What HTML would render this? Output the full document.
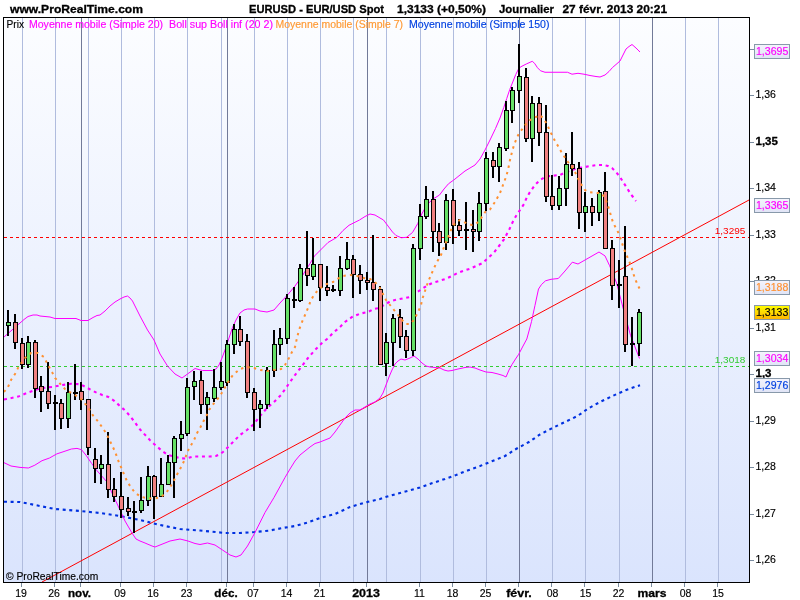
<!DOCTYPE html>
<html lang="fr"><head><meta charset="utf-8"><title>EURUSD - EUR/USD Spot</title>
<style>html,body{margin:0;padding:0;background:#fff;overflow:hidden}svg{display:block}text{font-family:"Liberation Sans",sans-serif}.b{font-weight:bold}</style></head><body>
<svg width="800" height="600" viewBox="0 0 800 600">
<defs><linearGradient id="bg" x1="0" y1="0" x2="0" y2="1"><stop offset="0" stop-color="#fcfdff"/><stop offset="1" stop-color="#dae4fd"/></linearGradient>
<linearGradient id="yl" x1="0" y1="0" x2="0" y2="1"><stop offset="0" stop-color="#ffff00"/><stop offset="1" stop-color="#ffb400"/></linearGradient>
<linearGradient id="lb" x1="0" y1="0" x2="0" y2="1"><stop offset="0" stop-color="#f4f4fc"/><stop offset="1" stop-color="#e0e4f6"/></linearGradient></defs>
<rect x="0" y="0" width="800" height="600" fill="#fff"/>
<rect x="3" y="17" width="747" height="566" fill="url(#bg)"/>
<g shape-rendering="crispEdges">
<rect x="22" y="18" width="1" height="564" fill="#b0bcde"/>
<rect x="55" y="18" width="1" height="564" fill="#b0bcde"/>
<rect x="88" y="18" width="1" height="564" fill="#b0bcde"/>
<rect x="121" y="18" width="1" height="564" fill="#b0bcde"/>
<rect x="154" y="18" width="1" height="564" fill="#b0bcde"/>
<rect x="187" y="18" width="1" height="564" fill="#b0bcde"/>
<rect x="221" y="18" width="1" height="564" fill="#b0bcde"/>
<rect x="254" y="18" width="1" height="564" fill="#b0bcde"/>
<rect x="287" y="18" width="1" height="564" fill="#b0bcde"/>
<rect x="320" y="18" width="1" height="564" fill="#b0bcde"/>
<rect x="353" y="18" width="1" height="564" fill="#b0bcde"/>
<rect x="386" y="18" width="1" height="564" fill="#b0bcde"/>
<rect x="420" y="18" width="1" height="564" fill="#b0bcde"/>
<rect x="453" y="18" width="1" height="564" fill="#b0bcde"/>
<rect x="486" y="18" width="1" height="564" fill="#b0bcde"/>
<rect x="552" y="18" width="1" height="564" fill="#b0bcde"/>
<rect x="585" y="18" width="1" height="564" fill="#b0bcde"/>
<rect x="619" y="18" width="1" height="564" fill="#b0bcde"/>
<rect x="685" y="18" width="1" height="564" fill="#b0bcde"/>
<rect x="718" y="18" width="1" height="564" fill="#b0bcde"/>
<rect x="81" y="18" width="1" height="564" fill="#727a98"/>
<rect x="227" y="18" width="1" height="564" fill="#727a98"/>
<rect x="367" y="18" width="1" height="564" fill="#727a98"/>
<rect x="519" y="18" width="1" height="564" fill="#727a98"/>
<rect x="652" y="18" width="1" height="564" fill="#727a98"/>
</g>
<line x1="4" y1="237.5" x2="749" y2="237.5" stroke="#ff0000" stroke-width="1" stroke-dasharray="3 3" shape-rendering="crispEdges"/>
<line x1="4" y1="366.5" x2="749" y2="366.5" stroke="#33cc33" stroke-width="1" stroke-dasharray="3 3" shape-rendering="crispEdges"/>
<line x1="42" y1="582" x2="749" y2="200" stroke="#ff0000" stroke-width="1"/>
<polyline points="4,501.75 20,502 40,506 55,509 80,511 100,513 120,516 140,520 160,525 180,529 200,530.5 205,531 225,533 240,533 255,532 270,530.5 282.5,528 295,526 307.5,522.5 320,518 335,514 350,507 365,502.5 380,499 384,497.5 396,494 409,490.5 420,487.5 432.5,483 445,479 456,475 467.5,470.5 480,466 492.5,461 505,456 516,449 529,442 540,434.5 552.5,428 565,422 577.5,416 587.5,409 600,402 612.5,396 625,390.5 631,388.25 637,386.25 640,385.3" fill="none" stroke="#0030e0" stroke-width="2.1" stroke-dasharray="3 3.6"/>
<polyline points="4,337 8,333.5 12,330 16,326.5 20,323 24,319.5 28,316.5 33,315 37,315 40,316 50,317 55,318.5 76,318.5 81,320.5 88,320.5 93,317.5 97,315.5 100,315 105,311 110,306 115,302 120,299 124,297 127.5,296 130,298 132.5,301 136,308 140,316 147.5,330 154,340 160,354 167.5,366 175,374 182,378 187.5,374 195,368.5 202.5,370.5 207,370.5 212.5,370.5 216,369 219,365 222,358 225,350 228,341 232.5,327.5 236,320 240,313 244,310 247.5,309 255,309 260,311 267,312 274,310 280,303 287.5,295 295,286 302.5,275.5 310,263.5 314.5,256 320.5,250 328,242.5 334,239 337,237.25 343,230.5 349,225.25 355,222.25 359.5,220 365,216.5 370,214 375,215 380,218 383.5,220 388,226 392.5,232 396,235.5 401.25,237.75 406.5,237.3 412.5,232.5 417.75,223.5 422.25,213 427.5,204 433.5,198.75 439.5,195 444,189 448.5,183.75 453.75,180 460,175 465,171 470,168 475,165 480,159 485,150 490,140 495.5,128.5 500,118 503.75,107.5 506.75,98.5 509.75,89.5 512.75,82 515.75,74.5 518.75,68.5 521,66.7 526.25,64 532.25,61.3 534.5,63.25 537.5,67.75 540.5,70.75 545,72.25 567.5,72.25 572,74.2 578,73.3 584,74.2 590,75.5 596,76.5 600,77 605,75 609,71.5 612.5,67.5 616,64.5 620,61 623,55 626,49 629,46.5 632,44.5 636,48 640,52" fill="none" stroke="#ff00ff" stroke-width="1" stroke-linejoin="round"/>
<polyline points="3.7,462.5 11,466 20,467.4 28.4,468 34.8,465.2 42,460.7 49.5,458 56.8,453.9 64,451.5 71.4,449 77,448.4 81.5,449.7 86,455.2 91.6,463.4 97,470.7 103.5,478 107,482 112,493 120,510 125,521 132,533 136,539 140,541 145,543 152,546 155,547 160,545 170,541 180,539 188,541 195,543.5 200,544.5 207.5,543 215,545 222.5,550 230,555 236,557 241,555 247.5,546 255,532.5 265,512.5 274,497.5 285,477.5 290,469 295,461 300,455 305,451 310,447 315,443.5 320,442 325,440 330,438 335,432 340,425 345,418 350,413 355,410 360,410 365,407 370,404 375,402 380,398 383,393 386,385 389,377 392,370 395,364 398,361 401,359 405,360 410,358 414,356 418,359 422,363 426,366 430,367 435,367.5 440,368 444,370 448,371 452,370.5 458,369 465,367.5 470,367 475,368 480,370 486,372 492,372.5 498,374 503,375.5 506,377 509,370 512,364.5 515.5,359 518.7,354.3 522.5,347 526.8,339 529,331 531.5,321.6 535,305.3 538.5,289 541.5,284.5 545.5,280.8 551,279.3 558.3,278.5 565,271 572.3,262.2 578,264 585,260 592,256 599,252 605,255.9 609.6,265.7 616.6,283 623.6,310 630.6,335.6 639.5,358.5" fill="none" stroke="#ff00ff" stroke-width="1" stroke-linejoin="round"/>
<polyline points="4,399.5 6.4,399 18.3,396.6 29.3,392 40.3,388.3 53,386.8 62.3,385 71.4,383.7 80.6,384.3 89.7,389.2 96,392.4 102.3,395 108.4,397 114.5,401 119.8,405.9 125,410.4 130,416 134.7,422 139,428.3 144.6,434.4 150.4,440.6 156.5,446.2 162.7,451.4 168,455 175,456.7 181,458.4 186.5,458.5 193.3,456.5 203.8,456.5 210,456.5 216,456 220,454 223,452 228.4,446.7 235,440 240,435 247,430 254,424 260,416 267,408 274,402 281,395 288,385 295,375 302,366 308,358 315,350 318,347 322,343 327,339 333,333 340,327 345,322 352,317 358,314.5 360,313.6 368,312 374,309 379,308 385,304.4 391,301 397,299.6 403,298.4 410,297 415,293.6 421,289.6 427,285.6 433,282.7 439,281 446,278.75 452.5,275.75 457.5,273 463,271 470,268.75 476,266 482.5,263 488,258 494,252.5 499,246 504,239.5 509.5,229 512.5,222.5 516,216 520,210 524,204 527,197 530,192 535,185 540,180 545,177 550,176 555,175.5 560,175 566,172 572,170 578,168 585,167 590,166 597,165 603,165 608,166 612,168 616,172 620,177 623,182 627,188 630,193 633,197 636,201" fill="none" stroke="#ff00ff" stroke-width="2.1" stroke-dasharray="3 3.7"/>
<g shape-rendering="crispEdges">
<rect x="7" y="310" width="2" height="26" fill="#000"/>
<rect x="6" y="322" width="5" height="4" fill="#000"/>
<rect x="7" y="323" width="3" height="2" fill="#66e066"/>
<rect x="14" y="314" width="2" height="35" fill="#000"/>
<rect x="13" y="322" width="5" height="21" fill="#000"/>
<rect x="14" y="323" width="3" height="19" fill="#f08080"/>
<rect x="21" y="338" width="2" height="31" fill="#000"/>
<rect x="20" y="343" width="5" height="22" fill="#000"/>
<rect x="21" y="344" width="3" height="20" fill="#f08080"/>
<rect x="27" y="336" width="2" height="32" fill="#000"/>
<rect x="26" y="342" width="5" height="23" fill="#000"/>
<rect x="27" y="343" width="3" height="21" fill="#66e066"/>
<rect x="34" y="340" width="2" height="58" fill="#000"/>
<rect x="33" y="342" width="5" height="47" fill="#000"/>
<rect x="34" y="343" width="3" height="45" fill="#f08080"/>
<rect x="40" y="376" width="2" height="36" fill="#000"/>
<rect x="39" y="386" width="5" height="6" fill="#000"/>
<rect x="40" y="387" width="3" height="4" fill="#f08080"/>
<rect x="47" y="362" width="2" height="47" fill="#000"/>
<rect x="46" y="391" width="5" height="13" fill="#000"/>
<rect x="47" y="392" width="3" height="11" fill="#f08080"/>
<rect x="54" y="395" width="2" height="35" fill="#000"/>
<rect x="53" y="402" width="5" height="2" fill="#000"/>
<rect x="60" y="399" width="2" height="30" fill="#000"/>
<rect x="59" y="403" width="5" height="16" fill="#000"/>
<rect x="60" y="404" width="3" height="14" fill="#f08080"/>
<rect x="67" y="382" width="2" height="46" fill="#000"/>
<rect x="66" y="392" width="5" height="27" fill="#000"/>
<rect x="67" y="393" width="3" height="25" fill="#66e066"/>
<rect x="74" y="364" width="2" height="36" fill="#000"/>
<rect x="73" y="392" width="5" height="2" fill="#000"/>
<rect x="80" y="382" width="2" height="28" fill="#000"/>
<rect x="79" y="391" width="5" height="9" fill="#000"/>
<rect x="80" y="392" width="3" height="7" fill="#f08080"/>
<rect x="87" y="399" width="2" height="56" fill="#000"/>
<rect x="86" y="399" width="5" height="49" fill="#000"/>
<rect x="87" y="400" width="3" height="47" fill="#f08080"/>
<rect x="94" y="448" width="2" height="35" fill="#000"/>
<rect x="93" y="459" width="5" height="10" fill="#000"/>
<rect x="94" y="460" width="3" height="8" fill="#f08080"/>
<rect x="100" y="455" width="2" height="29" fill="#000"/>
<rect x="99" y="464" width="5" height="5" fill="#000"/>
<rect x="100" y="465" width="3" height="3" fill="#66e066"/>
<rect x="107" y="432" width="2" height="66" fill="#000"/>
<rect x="106" y="464" width="5" height="26" fill="#000"/>
<rect x="107" y="465" width="3" height="24" fill="#f08080"/>
<rect x="113" y="478" width="2" height="24" fill="#000"/>
<rect x="112" y="489" width="5" height="8" fill="#000"/>
<rect x="113" y="490" width="3" height="6" fill="#f08080"/>
<rect x="120" y="472" width="2" height="46" fill="#000"/>
<rect x="119" y="496" width="5" height="14" fill="#000"/>
<rect x="120" y="497" width="3" height="12" fill="#f08080"/>
<rect x="127" y="497" width="2" height="19" fill="#000"/>
<rect x="126" y="508" width="5" height="4" fill="#000"/>
<rect x="127" y="509" width="3" height="2" fill="#f08080"/>
<rect x="133" y="501" width="2" height="32" fill="#000"/>
<rect x="132" y="511" width="5" height="2" fill="#000"/>
<rect x="140" y="477" width="2" height="36" fill="#000"/>
<rect x="139" y="500" width="5" height="11" fill="#000"/>
<rect x="140" y="501" width="3" height="9" fill="#66e066"/>
<rect x="147" y="466" width="2" height="40" fill="#000"/>
<rect x="146" y="476" width="5" height="25" fill="#000"/>
<rect x="147" y="477" width="3" height="23" fill="#66e066"/>
<rect x="153" y="475" width="2" height="44" fill="#000"/>
<rect x="152" y="476" width="5" height="21" fill="#000"/>
<rect x="153" y="477" width="3" height="19" fill="#f08080"/>
<rect x="160" y="458" width="2" height="38" fill="#000"/>
<rect x="159" y="484" width="5" height="13" fill="#000"/>
<rect x="160" y="485" width="3" height="11" fill="#66e066"/>
<rect x="167" y="455" width="2" height="30" fill="#000"/>
<rect x="166" y="462" width="5" height="23" fill="#000"/>
<rect x="167" y="463" width="3" height="21" fill="#66e066"/>
<rect x="173" y="436" width="2" height="62" fill="#000"/>
<rect x="172" y="438" width="5" height="25" fill="#000"/>
<rect x="173" y="439" width="3" height="23" fill="#66e066"/>
<rect x="180" y="421" width="2" height="30" fill="#000"/>
<rect x="179" y="434" width="5" height="5" fill="#000"/>
<rect x="180" y="435" width="3" height="3" fill="#66e066"/>
<rect x="186" y="378" width="2" height="58" fill="#000"/>
<rect x="185" y="387" width="5" height="47" fill="#000"/>
<rect x="186" y="388" width="3" height="45" fill="#66e066"/>
<rect x="193" y="371" width="2" height="29" fill="#000"/>
<rect x="192" y="381" width="5" height="6" fill="#000"/>
<rect x="193" y="382" width="3" height="4" fill="#66e066"/>
<rect x="200" y="371" width="2" height="43" fill="#000"/>
<rect x="199" y="380" width="5" height="25" fill="#000"/>
<rect x="200" y="381" width="3" height="23" fill="#f08080"/>
<rect x="206" y="392" width="2" height="38" fill="#000"/>
<rect x="205" y="397" width="5" height="8" fill="#000"/>
<rect x="206" y="398" width="3" height="6" fill="#66e066"/>
<rect x="213" y="369" width="2" height="33" fill="#000"/>
<rect x="212" y="387" width="5" height="12" fill="#000"/>
<rect x="213" y="388" width="3" height="10" fill="#66e066"/>
<rect x="220" y="362" width="2" height="28" fill="#000"/>
<rect x="219" y="381" width="5" height="7" fill="#000"/>
<rect x="220" y="382" width="3" height="5" fill="#66e066"/>
<rect x="226" y="340" width="2" height="46" fill="#000"/>
<rect x="225" y="344" width="5" height="39" fill="#000"/>
<rect x="226" y="345" width="3" height="37" fill="#66e066"/>
<rect x="233" y="324" width="2" height="30" fill="#000"/>
<rect x="232" y="329" width="5" height="16" fill="#000"/>
<rect x="233" y="330" width="3" height="14" fill="#66e066"/>
<rect x="239" y="316" width="2" height="30" fill="#000"/>
<rect x="238" y="329" width="5" height="13" fill="#000"/>
<rect x="239" y="330" width="3" height="11" fill="#f08080"/>
<rect x="246" y="334" width="2" height="64" fill="#000"/>
<rect x="245" y="341" width="5" height="52" fill="#000"/>
<rect x="246" y="342" width="3" height="50" fill="#f08080"/>
<rect x="253" y="388" width="2" height="43" fill="#000"/>
<rect x="252" y="392" width="5" height="18" fill="#000"/>
<rect x="253" y="393" width="3" height="16" fill="#f08080"/>
<rect x="259" y="400" width="2" height="28" fill="#000"/>
<rect x="258" y="404" width="5" height="5" fill="#000"/>
<rect x="259" y="405" width="3" height="3" fill="#66e066"/>
<rect x="266" y="367" width="2" height="42" fill="#000"/>
<rect x="265" y="370" width="5" height="35" fill="#000"/>
<rect x="266" y="371" width="3" height="33" fill="#66e066"/>
<rect x="273" y="330" width="2" height="47" fill="#000"/>
<rect x="272" y="344" width="5" height="27" fill="#000"/>
<rect x="273" y="345" width="3" height="25" fill="#66e066"/>
<rect x="279" y="328" width="2" height="27" fill="#000"/>
<rect x="278" y="338" width="5" height="7" fill="#000"/>
<rect x="279" y="339" width="3" height="5" fill="#66e066"/>
<rect x="286" y="294" width="2" height="50" fill="#000"/>
<rect x="285" y="298" width="5" height="41" fill="#000"/>
<rect x="286" y="299" width="3" height="39" fill="#66e066"/>
<rect x="293" y="287" width="2" height="21" fill="#000"/>
<rect x="292" y="299" width="5" height="2" fill="#000"/>
<rect x="299" y="264" width="2" height="38" fill="#000"/>
<rect x="298" y="268" width="5" height="33" fill="#000"/>
<rect x="299" y="269" width="3" height="31" fill="#66e066"/>
<rect x="306" y="231" width="2" height="55" fill="#000"/>
<rect x="305" y="268" width="5" height="8" fill="#000"/>
<rect x="306" y="269" width="3" height="6" fill="#f08080"/>
<rect x="312" y="238" width="2" height="42" fill="#000"/>
<rect x="311" y="264" width="5" height="13" fill="#000"/>
<rect x="312" y="265" width="3" height="11" fill="#66e066"/>
<rect x="319" y="264" width="2" height="37" fill="#000"/>
<rect x="318" y="264" width="5" height="24" fill="#000"/>
<rect x="319" y="265" width="3" height="22" fill="#f08080"/>
<rect x="326" y="266" width="2" height="30" fill="#000"/>
<rect x="325" y="287" width="5" height="4" fill="#000"/>
<rect x="326" y="288" width="3" height="2" fill="#f08080"/>
<rect x="332" y="285" width="2" height="7" fill="#000"/>
<rect x="331" y="289" width="5" height="2" fill="#000"/>
<rect x="339" y="256" width="2" height="40" fill="#000"/>
<rect x="338" y="268" width="5" height="23" fill="#000"/>
<rect x="339" y="269" width="3" height="21" fill="#66e066"/>
<rect x="346" y="242" width="2" height="28" fill="#000"/>
<rect x="345" y="259" width="5" height="10" fill="#000"/>
<rect x="346" y="260" width="3" height="8" fill="#66e066"/>
<rect x="352" y="255" width="2" height="43" fill="#000"/>
<rect x="351" y="259" width="5" height="16" fill="#000"/>
<rect x="352" y="260" width="3" height="14" fill="#f08080"/>
<rect x="359" y="265" width="2" height="29" fill="#000"/>
<rect x="358" y="274" width="5" height="7" fill="#000"/>
<rect x="359" y="275" width="3" height="5" fill="#f08080"/>
<rect x="366" y="272" width="2" height="18" fill="#000"/>
<rect x="365" y="280" width="5" height="3" fill="#000"/>
<rect x="366" y="281" width="3" height="1" fill="#f08080"/>
<rect x="372" y="235" width="2" height="66" fill="#000"/>
<rect x="371" y="282" width="5" height="8" fill="#000"/>
<rect x="372" y="283" width="3" height="6" fill="#f08080"/>
<rect x="379" y="286" width="2" height="78" fill="#000"/>
<rect x="378" y="289" width="5" height="76" fill="#000"/>
<rect x="379" y="290" width="3" height="74" fill="#f08080"/>
<rect x="385" y="333" width="2" height="43" fill="#000"/>
<rect x="384" y="342" width="5" height="22" fill="#000"/>
<rect x="385" y="343" width="3" height="20" fill="#66e066"/>
<rect x="392" y="314" width="2" height="52" fill="#000"/>
<rect x="391" y="318" width="5" height="25" fill="#000"/>
<rect x="392" y="319" width="3" height="23" fill="#66e066"/>
<rect x="399" y="309" width="2" height="39" fill="#000"/>
<rect x="398" y="317" width="5" height="20" fill="#000"/>
<rect x="399" y="318" width="3" height="18" fill="#f08080"/>
<rect x="405" y="330" width="2" height="28" fill="#000"/>
<rect x="404" y="336" width="5" height="15" fill="#000"/>
<rect x="405" y="337" width="3" height="13" fill="#f08080"/>
<rect x="412" y="244" width="2" height="112" fill="#000"/>
<rect x="411" y="248" width="5" height="103" fill="#000"/>
<rect x="412" y="249" width="3" height="101" fill="#66e066"/>
<rect x="419" y="204" width="2" height="56" fill="#000"/>
<rect x="418" y="216" width="5" height="33" fill="#000"/>
<rect x="419" y="217" width="3" height="31" fill="#66e066"/>
<rect x="425" y="186" width="2" height="33" fill="#000"/>
<rect x="424" y="199" width="5" height="18" fill="#000"/>
<rect x="425" y="200" width="3" height="16" fill="#66e066"/>
<rect x="432" y="191" width="2" height="61" fill="#000"/>
<rect x="431" y="199" width="5" height="33" fill="#000"/>
<rect x="432" y="200" width="3" height="31" fill="#f08080"/>
<rect x="438" y="223" width="2" height="33" fill="#000"/>
<rect x="437" y="231" width="5" height="12" fill="#000"/>
<rect x="438" y="232" width="3" height="10" fill="#f08080"/>
<rect x="445" y="194" width="2" height="56" fill="#000"/>
<rect x="444" y="200" width="5" height="43" fill="#000"/>
<rect x="445" y="201" width="3" height="41" fill="#66e066"/>
<rect x="452" y="189" width="2" height="55" fill="#000"/>
<rect x="451" y="200" width="5" height="26" fill="#000"/>
<rect x="452" y="201" width="3" height="24" fill="#f08080"/>
<rect x="458" y="219" width="2" height="17" fill="#000"/>
<rect x="457" y="225" width="5" height="6" fill="#000"/>
<rect x="458" y="226" width="3" height="4" fill="#f08080"/>
<rect x="465" y="202" width="2" height="48" fill="#000"/>
<rect x="464" y="229" width="5" height="2" fill="#000"/>
<rect x="472" y="210" width="2" height="42" fill="#000"/>
<rect x="471" y="229" width="5" height="3" fill="#000"/>
<rect x="472" y="230" width="3" height="1" fill="#f08080"/>
<rect x="478" y="192" width="2" height="49" fill="#000"/>
<rect x="477" y="203" width="5" height="29" fill="#000"/>
<rect x="478" y="204" width="3" height="27" fill="#66e066"/>
<rect x="485" y="152" width="2" height="59" fill="#000"/>
<rect x="484" y="158" width="5" height="46" fill="#000"/>
<rect x="485" y="159" width="3" height="44" fill="#66e066"/>
<rect x="492" y="152" width="2" height="26" fill="#000"/>
<rect x="491" y="160" width="5" height="7" fill="#000"/>
<rect x="492" y="161" width="3" height="5" fill="#f08080"/>
<rect x="498" y="143" width="2" height="39" fill="#000"/>
<rect x="497" y="147" width="5" height="20" fill="#000"/>
<rect x="498" y="148" width="3" height="18" fill="#66e066"/>
<rect x="505" y="101" width="2" height="50" fill="#000"/>
<rect x="504" y="110" width="5" height="39" fill="#000"/>
<rect x="505" y="111" width="3" height="37" fill="#66e066"/>
<rect x="511" y="87" width="2" height="36" fill="#000"/>
<rect x="510" y="90" width="5" height="21" fill="#000"/>
<rect x="511" y="91" width="3" height="19" fill="#66e066"/>
<rect x="518" y="44" width="2" height="59" fill="#000"/>
<rect x="517" y="76" width="5" height="15" fill="#000"/>
<rect x="518" y="77" width="3" height="13" fill="#66e066"/>
<rect x="525" y="68" width="2" height="74" fill="#000"/>
<rect x="524" y="77" width="5" height="62" fill="#000"/>
<rect x="525" y="78" width="3" height="60" fill="#f08080"/>
<rect x="531" y="96" width="2" height="66" fill="#000"/>
<rect x="530" y="103" width="5" height="36" fill="#000"/>
<rect x="531" y="104" width="3" height="34" fill="#66e066"/>
<rect x="538" y="97" width="2" height="49" fill="#000"/>
<rect x="537" y="103" width="5" height="30" fill="#000"/>
<rect x="538" y="104" width="3" height="28" fill="#f08080"/>
<rect x="545" y="105" width="2" height="97" fill="#000"/>
<rect x="544" y="132" width="5" height="65" fill="#000"/>
<rect x="545" y="133" width="3" height="63" fill="#f08080"/>
<rect x="551" y="175" width="2" height="35" fill="#000"/>
<rect x="550" y="196" width="5" height="10" fill="#000"/>
<rect x="551" y="197" width="3" height="8" fill="#f08080"/>
<rect x="558" y="176" width="2" height="34" fill="#000"/>
<rect x="557" y="188" width="5" height="18" fill="#000"/>
<rect x="558" y="189" width="3" height="16" fill="#66e066"/>
<rect x="565" y="153" width="2" height="53" fill="#000"/>
<rect x="564" y="164" width="5" height="25" fill="#000"/>
<rect x="565" y="165" width="3" height="23" fill="#66e066"/>
<rect x="571" y="132" width="2" height="44" fill="#000"/>
<rect x="570" y="164" width="5" height="5" fill="#000"/>
<rect x="571" y="165" width="3" height="3" fill="#f08080"/>
<rect x="578" y="162" width="2" height="67" fill="#000"/>
<rect x="577" y="168" width="5" height="45" fill="#000"/>
<rect x="578" y="169" width="3" height="43" fill="#f08080"/>
<rect x="584" y="192" width="2" height="40" fill="#000"/>
<rect x="583" y="206" width="5" height="7" fill="#000"/>
<rect x="584" y="207" width="3" height="5" fill="#66e066"/>
<rect x="591" y="198" width="2" height="28" fill="#000"/>
<rect x="590" y="206" width="5" height="7" fill="#000"/>
<rect x="591" y="207" width="3" height="5" fill="#f08080"/>
<rect x="598" y="190" width="2" height="31" fill="#000"/>
<rect x="597" y="192" width="5" height="21" fill="#000"/>
<rect x="598" y="193" width="3" height="19" fill="#66e066"/>
<rect x="604" y="172" width="2" height="76" fill="#000"/>
<rect x="603" y="191" width="5" height="58" fill="#000"/>
<rect x="604" y="192" width="3" height="56" fill="#f08080"/>
<rect x="611" y="240" width="2" height="60" fill="#000"/>
<rect x="610" y="248" width="5" height="38" fill="#000"/>
<rect x="611" y="249" width="3" height="36" fill="#f08080"/>
<rect x="618" y="260" width="2" height="48" fill="#000"/>
<rect x="617" y="284" width="5" height="2" fill="#000"/>
<rect x="624" y="226" width="2" height="126" fill="#000"/>
<rect x="623" y="276" width="5" height="69" fill="#000"/>
<rect x="624" y="277" width="3" height="67" fill="#f08080"/>
<rect x="631" y="317" width="2" height="49" fill="#000"/>
<rect x="630" y="343" width="5" height="2" fill="#000"/>
<rect x="638" y="309" width="2" height="47" fill="#000"/>
<rect x="637" y="312" width="5" height="32" fill="#000"/>
<rect x="638" y="313" width="3" height="30" fill="#66e066"/>
</g>
<polyline points="4,392 8,387 11,380 15,374 18,368 22,362 26,357 31,353 38,353 44,357 48,365 52,372 55,378 58,381 62,386 65,389 68,391 75,395 80,398 88,407 92.6,415 97.9,421.3 102,427 105.8,432.7 109,439 112,445.3 115,451.4 117,457 119,462.5 121,467 122,469.75 124.7,475.75 127.25,481.75 131,487.3 135.2,493 141.2,496.75 147.5,498.25 153.8,498.7 159.5,497.5 165.5,493.75 169.7,487.75 173.3,481.75 176.3,475.75 179.75,469.75 182.75,463.75 185.4,458 187.2,452 190.7,445.8 194.2,439.7 196.8,433.5 200.3,427.4 203.5,421.3 206.5,415.7 209,410 213.5,403.8 218.7,397.6 222.7,391.5 225.7,386.3 229,380.5 233,375 240,369 247,367 254,368 260,370 267,371 274,370 281,369 285,365 289,358 293,350 295,347 297,338 299,330 302,322 305,315 308,308 311,300 314,295 318,290 322,287 327,284 333,282 337,279 343,276 350,275 357,276 364,278 370,279 375,282 380,288 383,294 386,300 390,305 394,310 398,315 402,320 406,324 410,324 414,320 416,316 419,310 421,305 422,300 424,294 426,288 428,282 431,275 434,268 437,262 441,255 444,247 447,240 450,232 453,226 456,222 460,220 464,222 468,224 472,225 476,224 480,220 483,215 486,211 490,209.5 495,202 500,193 503,185 506,177 508,170 510,160 512,152 514,145 516,140 519,133 522.5,129 526,124 530,120 534,118 540,115 544,119 547.5,125.5 551,133 555,141 558,146 562.5,154 568,162 572,167 575,172 580,182.5 585,190 588,192 592.5,192.5 597,193 601,193 605,197.5 609,209 613,222.5 619,234 624,249 629,261 631.25,266.25 633,272.5 635,278.75 637.5,284.5 639.5,288.5" fill="none" stroke="#ff9030" stroke-width="2" stroke-dasharray="2.4 4.2"/>
<g shape-rendering="crispEdges" fill="#000">
<rect x="3" y="17" width="747" height="1"/>
<rect x="3" y="582" width="747" height="1"/>
<rect x="3" y="17" width="1" height="566"/>
<rect x="749" y="17" width="1" height="566"/>
</g>
<text x="10" y="12.5" font-size="11.5" fill="#000" stroke="#000" stroke-width="0.3" class="b" textLength="133" lengthAdjust="spacingAndGlyphs">www.ProRealTime.com</text>
<text x="249" y="12.5" font-size="11.5" fill="#000" stroke="#000" stroke-width="0.3" class="b" textLength="135" lengthAdjust="spacingAndGlyphs">EURUSD - EUR/USD Spot</text>
<text x="397" y="12.5" font-size="11.5" fill="#000" stroke="#000" stroke-width="0.3" class="b" textLength="89" lengthAdjust="spacingAndGlyphs">1,3133 (+0,50%)</text>
<text x="499" y="12.5" font-size="11.5" fill="#000" stroke="#000" stroke-width="0.3" class="b" textLength="55" lengthAdjust="spacingAndGlyphs">Journalier</text>
<text x="562.5" y="12.5" font-size="11.5" fill="#000" stroke="#000" stroke-width="0.3" class="b" textLength="104.5" lengthAdjust="spacingAndGlyphs">27 févr. 2013 20:21</text>
<text x="6.5" y="27.5" font-size="10.5" fill="#000" stroke="#000" stroke-width="0.15" textLength="17.5" lengthAdjust="spacingAndGlyphs">Prix</text>
<text x="29" y="27.5" font-size="10.5" fill="#ff00ff" stroke="#ff00ff" stroke-width="0.15" textLength="134" lengthAdjust="spacingAndGlyphs">Moyenne mobile (Simple 20)</text>
<text x="169" y="27.5" font-size="10.5" fill="#ff00ff" stroke="#ff00ff" stroke-width="0.15" textLength="104" lengthAdjust="spacingAndGlyphs">Boll sup Boll inf (20 2)</text>
<text x="275.5" y="27.5" font-size="10.5" fill="#ff9933" stroke="#ff9933" stroke-width="0.15" textLength="127.5" lengthAdjust="spacingAndGlyphs">Moyenne mobile (Simple 7)</text>
<text x="409" y="27.5" font-size="10.5" fill="#0040e0" stroke="#0040e0" stroke-width="0.15" textLength="140.5" lengthAdjust="spacingAndGlyphs">Moyenne mobile (Simple 150)</text>
<text x="6" y="580" font-size="10.5" fill="#000" stroke="#000" stroke-width="0.15" textLength="92.3" lengthAdjust="spacingAndGlyphs">© ProRealTime.com</text>
<text x="21" y="597" font-size="10.5" fill="#000" stroke="#000" stroke-width="0.15" text-anchor="middle">19</text>
<text x="54" y="597" font-size="10.5" fill="#000" stroke="#000" stroke-width="0.15" text-anchor="middle">26</text>
<text x="68.0" y="597" font-size="11.5" fill="#000" stroke="#000" stroke-width="0.3" class="b" textLength="23" lengthAdjust="spacingAndGlyphs">nov.</text>
<text x="120" y="597" font-size="10.5" fill="#000" stroke="#000" stroke-width="0.15" text-anchor="middle">09</text>
<text x="153" y="597" font-size="10.5" fill="#000" stroke="#000" stroke-width="0.15" text-anchor="middle">16</text>
<text x="186.5" y="597" font-size="10.5" fill="#000" stroke="#000" stroke-width="0.15" text-anchor="middle">23</text>
<text x="214.35" y="597" font-size="11.5" fill="#000" stroke="#000" stroke-width="0.3" class="b" textLength="23.3" lengthAdjust="spacingAndGlyphs">déc.</text>
<text x="253" y="597" font-size="10.5" fill="#000" stroke="#000" stroke-width="0.15" text-anchor="middle">07</text>
<text x="286.5" y="597" font-size="10.5" fill="#000" stroke="#000" stroke-width="0.15" text-anchor="middle">14</text>
<text x="319.5" y="597" font-size="10.5" fill="#000" stroke="#000" stroke-width="0.15" text-anchor="middle">21</text>
<text x="352.15" y="597" font-size="11.5" fill="#000" stroke="#000" stroke-width="0.3" class="b" textLength="27.7" lengthAdjust="spacingAndGlyphs">2013</text>
<text x="419.5" y="597" font-size="10.5" fill="#000" stroke="#000" stroke-width="0.15" text-anchor="middle">11</text>
<text x="452.5" y="597" font-size="10.5" fill="#000" stroke="#000" stroke-width="0.15" text-anchor="middle">18</text>
<text x="485.5" y="597" font-size="10.5" fill="#000" stroke="#000" stroke-width="0.15" text-anchor="middle">25</text>
<text x="506.15" y="597" font-size="11.5" fill="#000" stroke="#000" stroke-width="0.3" class="b" textLength="25.7" lengthAdjust="spacingAndGlyphs">févr.</text>
<text x="552.5" y="597" font-size="10.5" fill="#000" stroke="#000" stroke-width="0.15" text-anchor="middle">08</text>
<text x="585.5" y="597" font-size="10.5" fill="#000" stroke="#000" stroke-width="0.15" text-anchor="middle">15</text>
<text x="618.5" y="597" font-size="10.5" fill="#000" stroke="#000" stroke-width="0.15" text-anchor="middle">22</text>
<text x="637.5" y="597" font-size="11.5" fill="#000" stroke="#000" stroke-width="0.3" class="b" textLength="29" lengthAdjust="spacingAndGlyphs">mars</text>
<text x="685.5" y="597" font-size="10.5" fill="#000" stroke="#000" stroke-width="0.15" text-anchor="middle">08</text>
<text x="718" y="597" font-size="10.5" fill="#000" stroke="#000" stroke-width="0.15" text-anchor="middle">15</text>
<g shape-rendering="crispEdges">
<rect x="21" y="583" width="1" height="4" fill="#7a8ca0"/>
<rect x="54" y="583" width="1" height="4" fill="#7a8ca0"/>
<rect x="80" y="583" width="1" height="4" fill="#7a8ca0"/>
<rect x="120" y="583" width="1" height="4" fill="#7a8ca0"/>
<rect x="153" y="583" width="1" height="4" fill="#7a8ca0"/>
<rect x="186" y="583" width="1" height="4" fill="#7a8ca0"/>
<rect x="226" y="583" width="1" height="4" fill="#7a8ca0"/>
<rect x="253" y="583" width="1" height="4" fill="#7a8ca0"/>
<rect x="286" y="583" width="1" height="4" fill="#7a8ca0"/>
<rect x="319" y="583" width="1" height="4" fill="#7a8ca0"/>
<rect x="366" y="583" width="1" height="4" fill="#7a8ca0"/>
<rect x="419" y="583" width="1" height="4" fill="#7a8ca0"/>
<rect x="452" y="583" width="1" height="4" fill="#7a8ca0"/>
<rect x="485" y="583" width="1" height="4" fill="#7a8ca0"/>
<rect x="518" y="583" width="1" height="4" fill="#7a8ca0"/>
<rect x="551" y="583" width="1" height="4" fill="#7a8ca0"/>
<rect x="584" y="583" width="1" height="4" fill="#7a8ca0"/>
<rect x="618" y="583" width="1" height="4" fill="#7a8ca0"/>
<rect x="651" y="583" width="1" height="4" fill="#7a8ca0"/>
<rect x="684" y="583" width="1" height="4" fill="#7a8ca0"/>
<rect x="717" y="583" width="1" height="4" fill="#7a8ca0"/>
<rect x="750" y="95" width="4" height="1" fill="#7a8ca0"/>
<rect x="750" y="142" width="4" height="1" fill="#7a8ca0"/>
<rect x="750" y="188" width="4" height="1" fill="#7a8ca0"/>
<rect x="750" y="235" width="4" height="1" fill="#7a8ca0"/>
<rect x="750" y="281" width="4" height="1" fill="#7a8ca0"/>
<rect x="750" y="328" width="4" height="1" fill="#7a8ca0"/>
<rect x="750" y="374" width="4" height="1" fill="#7a8ca0"/>
<rect x="750" y="421" width="4" height="1" fill="#7a8ca0"/>
<rect x="750" y="467" width="4" height="1" fill="#7a8ca0"/>
<rect x="750" y="514" width="4" height="1" fill="#7a8ca0"/>
<rect x="750" y="560" width="4" height="1" fill="#7a8ca0"/>
</g>
<text x="755.5" y="98" font-size="10.5" fill="#000" stroke="#000" stroke-width="0.15">1,36</text>
<text x="755.5" y="145" font-size="11.5" fill="#000" stroke="#000" stroke-width="0.3" class="b">1,35</text>
<text x="755.5" y="191" font-size="10.5" fill="#000" stroke="#000" stroke-width="0.15">1,34</text>
<text x="755.5" y="238" font-size="10.5" fill="#000" stroke="#000" stroke-width="0.15">1,33</text>
<text x="755.5" y="284" font-size="10.5" fill="#000" stroke="#000" stroke-width="0.15">1,32</text>
<text x="755.5" y="331" font-size="10.5" fill="#000" stroke="#000" stroke-width="0.15">1,31</text>
<text x="755.5" y="377" font-size="11.5" fill="#000" stroke="#000" stroke-width="0.3" class="b">1,3</text>
<text x="755.5" y="424" font-size="10.5" fill="#000" stroke="#000" stroke-width="0.15">1,29</text>
<text x="755.5" y="470" font-size="10.5" fill="#000" stroke="#000" stroke-width="0.15">1,28</text>
<text x="755.5" y="517" font-size="10.5" fill="#000" stroke="#000" stroke-width="0.15">1,27</text>
<text x="755.5" y="563" font-size="10.5" fill="#000" stroke="#000" stroke-width="0.15">1,26</text>
<text x="714.8" y="234" font-size="9.7" fill="#ff0000" stroke="#ff0000" stroke-width="0" textLength="30.5" lengthAdjust="spacingAndGlyphs">1,3295</text>
<text x="714.8" y="363.3" font-size="9.7" fill="#3c3" stroke="#3c3" stroke-width="0" textLength="30.5" lengthAdjust="spacingAndGlyphs">1,3018</text>
<rect x="750" y="49" width="4" height="1" fill="#7a8ca0" shape-rendering="crispEdges"/>
<rect x="754.5" y="44.5" width="35" height="14" fill="url(#lb)" stroke="#8899aa" stroke-width="1"/>
<text x="756" y="55" font-size="10.5" fill="#ff00ff" stroke="#ff00ff" stroke-width="0.15" textLength="32.3" lengthAdjust="spacingAndGlyphs">1,3695</text>
<rect x="754.5" y="198.5" width="35" height="14" fill="url(#lb)" stroke="#8899aa" stroke-width="1"/>
<text x="756" y="209" font-size="10.5" fill="#ff00ff" stroke="#ff00ff" stroke-width="0.15" textLength="32.3" lengthAdjust="spacingAndGlyphs">1,3365</text>
<rect x="754.5" y="280.5" width="35" height="14" fill="url(#lb)" stroke="#8899aa" stroke-width="1"/>
<text x="756" y="291" font-size="10.5" fill="#ff9030" stroke="#ff9030" stroke-width="0.15" textLength="32.3" lengthAdjust="spacingAndGlyphs">1,3188</text>
<rect x="754.5" y="305.5" width="35" height="14" fill="url(#yl)" stroke="#8899aa" stroke-width="1"/>
<text x="756" y="316" font-size="10.5" fill="#000" stroke="#000" stroke-width="0.15" textLength="32.3" lengthAdjust="spacingAndGlyphs">1,3133</text>
<rect x="754.5" y="351.5" width="35" height="14" fill="url(#lb)" stroke="#8899aa" stroke-width="1"/>
<text x="756" y="362" font-size="10.5" fill="#ff00ff" stroke="#ff00ff" stroke-width="0.15" textLength="32.3" lengthAdjust="spacingAndGlyphs">1,3034</text>
<rect x="754.5" y="378.5" width="35" height="14" fill="url(#lb)" stroke="#8899aa" stroke-width="1"/>
<text x="756" y="389" font-size="10.5" fill="#0040e0" stroke="#0040e0" stroke-width="0.15" textLength="32.3" lengthAdjust="spacingAndGlyphs">1,2976</text>
</svg></body></html>
